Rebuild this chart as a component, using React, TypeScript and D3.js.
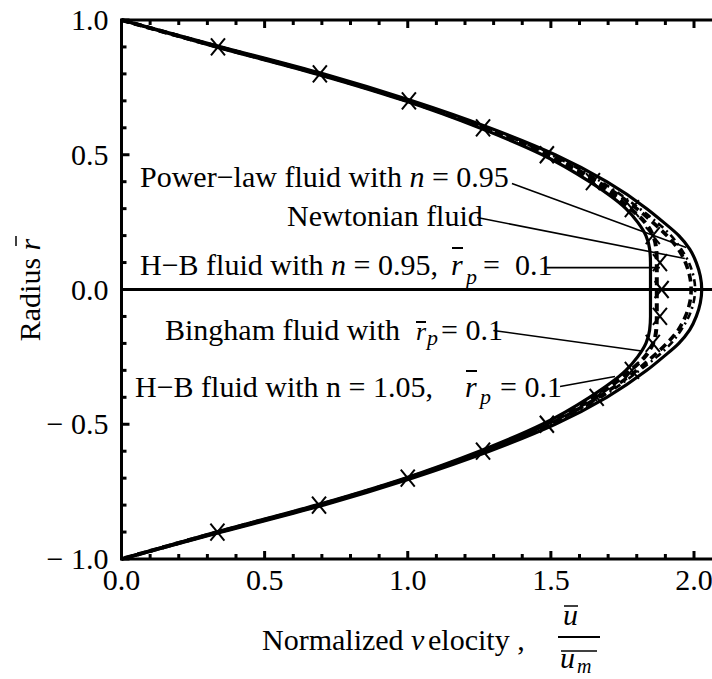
import React from 'react';
import * as d3 from 'd3';

// radial positions (r-bar) at which the profiles were read
const R_GRID = [1, 0.9, 0.8, 0.7, 0.6, 0.5, 0.4, 0.3, 0.25, 0.2, 0.15, 0.1, 0.05, 0,
  -0.05, -0.1, -0.15, -0.2, -0.25, -0.3, -0.4, -0.5, -0.6, -0.7, -0.8, -0.9, -1];

// normalized velocity of each profile at R_GRID
const POWER_LAW_U = [0, 0.35, 0.705, 1.015, 1.285, 1.515, 1.695, 1.835, 1.893, 1.947, 1.985, 2.008, 2.022, 2.027,
  2.022, 2.008, 1.985, 1.947, 1.893, 1.835, 1.695, 1.515, 1.285, 1.015, 0.705, 0.35, 0];
const NEWTONIAN_DASHDOT_U = [0, 0.342, 0.695, 1.005, 1.272, 1.5, 1.675, 1.81, 1.87, 1.92, 1.955, 1.982, 1.998, 2.004,
  1.998, 1.982, 1.955, 1.92, 1.87, 1.81, 1.675, 1.5, 1.272, 1.005, 0.695, 0.342, 0];
const NEWTONIAN_U = [0, 0.34, 0.692, 1.002, 1.267, 1.493, 1.665, 1.8, 1.855, 1.905, 1.945, 1.97, 1.985, 1.99,
  1.985, 1.97, 1.945, 1.905, 1.855, 1.8, 1.665, 1.493, 1.267, 1.002, 0.692, 0.34, 0];
const BINGHAM_U = [0, 0.33, 0.68, 0.99, 1.25, 1.47, 1.635, 1.762, 1.803, 1.832, 1.845, 1.848, 1.848, 1.848,
  1.848, 1.848, 1.845, 1.832, 1.803, 1.762, 1.635, 1.47, 1.25, 0.99, 0.68, 0.33, 0];
const HB095_U = [0, 0.338, 0.69, 1.0, 1.262, 1.484, 1.652, 1.778, 1.828, 1.857, 1.868, 1.87, 1.87, 1.87,
  1.87, 1.87, 1.868, 1.857, 1.828, 1.778, 1.652, 1.484, 1.262, 1.0, 0.69, 0.338, 0];

// marker series (H-B, n = 1.05)
const MARKER_R = [0.9, 0.8, 0.7, 0.6, 0.5, 0.4, 0.3, 0.2, 0.1, 0, -0.1, -0.2, -0.3, -0.4, -0.5, -0.6, -0.7, -0.8, -0.9];
const MARKER_U = [0.337, 0.693, 1.004, 1.263, 1.486, 1.647, 1.783, 1.856, 1.881, 1.887, 1.881, 1.856, 1.783, 1.66, 1.486, 1.263, 1.0, 0.69, 0.335];

const X_TICKS = [0, 0.5, 1.0, 1.5, 2.0];
const X_TICK_LABELS = ['0.0', '0.5', '1.0', '1.5', '2.0'];
const Y_TICKS = [1.0, 0.5, 0, -0.5, -1.0];
const Y_TICK_LABELS = ['1.0', '0.5', '0.0', '\u2212 0.5', '\u2212 1.0'];

const W = 712;
const H = 679;
const FONT = "'Liberation Serif', 'DejaVu Serif', serif";

export default function App() {
  const x = d3.scaleLinear().domain([0, 2]).range([121.5, 694]);
  const y = d3.scaleLinear().domain([-1, 1]).range([559, 20]);
  const x0 = x(0);
  const yTop = y(1);
  const yBot = y(-1);

  const line = d3.line<[number, number]>()
    .x(d => x(d[0]))
    .y(d => y(d[1]))
    .curve(d3.curveMonotoneY);

  const mk = (us: number[]) => line(us.map((u, i) => [u, R_GRID[i]] as [number, number])) || '';

  const minorX = d3.range(0, 21).map(i => i / 10).filter(v => x(v) <= W);
  const minorY = d3.range(-10, 11).map(i => i / 10);

  const ann = [
    { s: [1.364, 0.393], e: [1.973, 0.156] },
    { s: [1.242, 0.267], e: [1.968, 0.115] },
    { s: [1.485, 0.081], e: [1.881, 0.081] },
    { s: [1.299, -0.152], e: [1.817, -0.228] },
    { s: [1.532, -0.36], e: [1.724, -0.323] },
  ];

  const txt = { fontFamily: FONT } as React.CSSProperties;

  return (
    <svg width={W} height={H} style={{ position: 'absolute', left: 0, top: 0, background: '#fff', fontFamily: FONT }}>
      <rect x={0} y={0} width={W} height={H} fill="#fff" />
      {/* curves */}
      <path d={mk(BINGHAM_U)} fill="none" stroke="#000" strokeWidth={3.2} />
      <path d={mk(HB095_U)} fill="none" stroke="#000" strokeWidth={4} strokeDasharray="8,5" />
      <path d={mk(NEWTONIAN_U)} fill="none" stroke="#000" strokeWidth={3.6} strokeDasharray="8,5" />
      <path d={mk(NEWTONIAN_DASHDOT_U)} fill="none" stroke="#000" strokeWidth={2.6} strokeDasharray="7,4,2,4" />
      <path d={mk(POWER_LAW_U)} fill="none" stroke="#000" strokeWidth={3.2} />
      {/* markers */}
      {MARKER_R.map((r, i) => {
        const cx = x(MARKER_U[i]);
        const cy = y(r);
        return (
          <g key={i} stroke="#000" strokeWidth={2}>
            <line x1={cx - 7} y1={cy - 8.5} x2={cx + 7} y2={cy + 8.5} />
            <line x1={cx - 7} y1={cy + 8.5} x2={cx + 7} y2={cy - 8.5} />
          </g>
        );
      })}
      {/* zero line */}
      <line x1={x0} x2={W} y1={y(0)} y2={y(0)} stroke="#000" strokeWidth={3} />
      {/* frame */}
      <line x1={x0} x2={x0} y1={yTop - 1.5} y2={yBot + 1.5} stroke="#000" strokeWidth={3} />
      <line x1={x0} x2={W} y1={yTop} y2={yTop} stroke="#000" strokeWidth={3} />
      <line x1={x0} x2={W} y1={yBot} y2={yBot} stroke="#000" strokeWidth={3} />
      {minorX.map((v, i) => {
        const major = Math.abs(v * 2 - Math.round(v * 2)) < 1e-6;
        const len = major ? 8 : 5;
        return (
          <g key={'xt' + i} stroke="#000" strokeWidth={3}>
            <line x1={x(v)} x2={x(v)} y1={yTop} y2={yTop + len} />
            <line x1={x(v)} x2={x(v)} y1={yBot} y2={yBot - len} />
          </g>
        );
      })}
      {minorY.map((v, i) => {
        const major = Math.abs(v * 2 - Math.round(v * 2)) < 1e-6;
        const len = major ? 8 : 5;
        return <line key={'yt' + i} x1={x0} x2={x0 + len} y1={y(v)} y2={y(v)} stroke="#000" strokeWidth={3} />;
      })}
      {/* tick labels */}
      {X_TICKS.map((v, i) => (
        <text key={'xl' + i} style={txt} x={x(v)} y={y(-1) + 31} fontSize={30} textAnchor="middle">{X_TICK_LABELS[i]}</text>
      ))}
      {Y_TICKS.map((v, i) => (
        <text key={'yl' + i} style={txt} x={x0 - 13} y={y(v) + 10} fontSize={30} textAnchor="end">{Y_TICK_LABELS[i]}</text>
      ))}
      {/* annotation leader lines */}
      {ann.map((a, i) => (
        <line key={'an' + i} x1={x(a.s[0])} y1={y(a.s[1])} x2={x(a.e[0])} y2={y(a.e[1])} stroke="#000" strokeWidth={1.6} />
      ))}
      {/* annotation texts */}
      <text style={txt} x={140} y={187} fontSize={30}>Power{'\u2212'}law fluid with <tspan fontStyle="italic">n</tspan> = 0.95</text>
      <text style={txt} x={287} y={226} fontSize={30}>Newtonian fluid</text>
      <text style={txt} x={140} y={275} fontSize={30}>H{'\u2212'}B fluid with <tspan fontStyle="italic">n</tspan> = 0.95,</text>
      <text style={txt} x={451} y={275} fontSize={30} fontStyle="italic">r</text>
      <line x1={452} x2={463} y1={248} y2={248} stroke="#000" strokeWidth={2} />
      <text style={txt} x={466} y={284} fontSize={22} fontStyle="italic">p</text>
      <text style={txt} x={483} y={275} fontSize={30}>{'=\u00a0\u00a00.1'}</text>

      <text style={txt} x={165} y={340} fontSize={30}>Bingham fluid with</text>
      <text style={txt} x={416} y={340} fontSize={26} fontStyle="italic">r</text>
      <line x1={416} x2={426} y1={322} y2={322} stroke="#000" strokeWidth={2} />
      <text style={txt} x={427} y={345} fontSize={22} fontStyle="italic">p</text>
      <text style={txt} x={441} y={340} fontSize={30}>= 0.1</text>

      <text style={txt} x={135} y={397} fontSize={30}>H{'\u2212'}B fluid with n = 1.05,</text>
      <text style={txt} x={465} y={397} fontSize={30} fontStyle="italic">r</text>
      <line x1={466} x2={477} y1={371} y2={371} stroke="#000" strokeWidth={2} />
      <text style={txt} x={480} y={404} fontSize={22} fontStyle="italic">p</text>
      <text style={txt} x={500} y={397} fontSize={30}>= 0.1</text>

      {/* y axis title */}
      <g transform="translate(40,290) rotate(-90)">
        <text style={txt} x={0} y={0} fontSize={30} textAnchor="middle">Radius <tspan fontStyle="italic">r</tspan></text>
      </g>
      <line x1={16} x2={16} y1={236} y2={246} stroke="#000" strokeWidth={1.5} />

      {/* x axis title */}
      <text style={txt} x={262} y={650} fontSize={30}>Normalized</text>
      <text style={txt} x={411} y={650} fontSize={30} fontStyle="italic">v</text>
      <text style={txt} x={428} y={650} fontSize={30}>elocity ,</text>
      <text style={txt} x={563} y={625} fontSize={30} fontStyle="italic">u</text>
      <line x1={564} x2={578} y1={606} y2={606} stroke="#000" strokeWidth={1.5} />
      <line x1={558} x2={600} y1={637} y2={637} stroke="#000" strokeWidth={2} />
      <text style={txt} x={560} y={668} fontSize={30} fontStyle="italic">u</text>
      <text style={txt} x={577} y={673} fontSize={20} fontStyle="italic">m</text>
      <line x1={561} x2={597} y1={651} y2={651} stroke="#000" strokeWidth={1.5} />
    </svg>
  );
}
